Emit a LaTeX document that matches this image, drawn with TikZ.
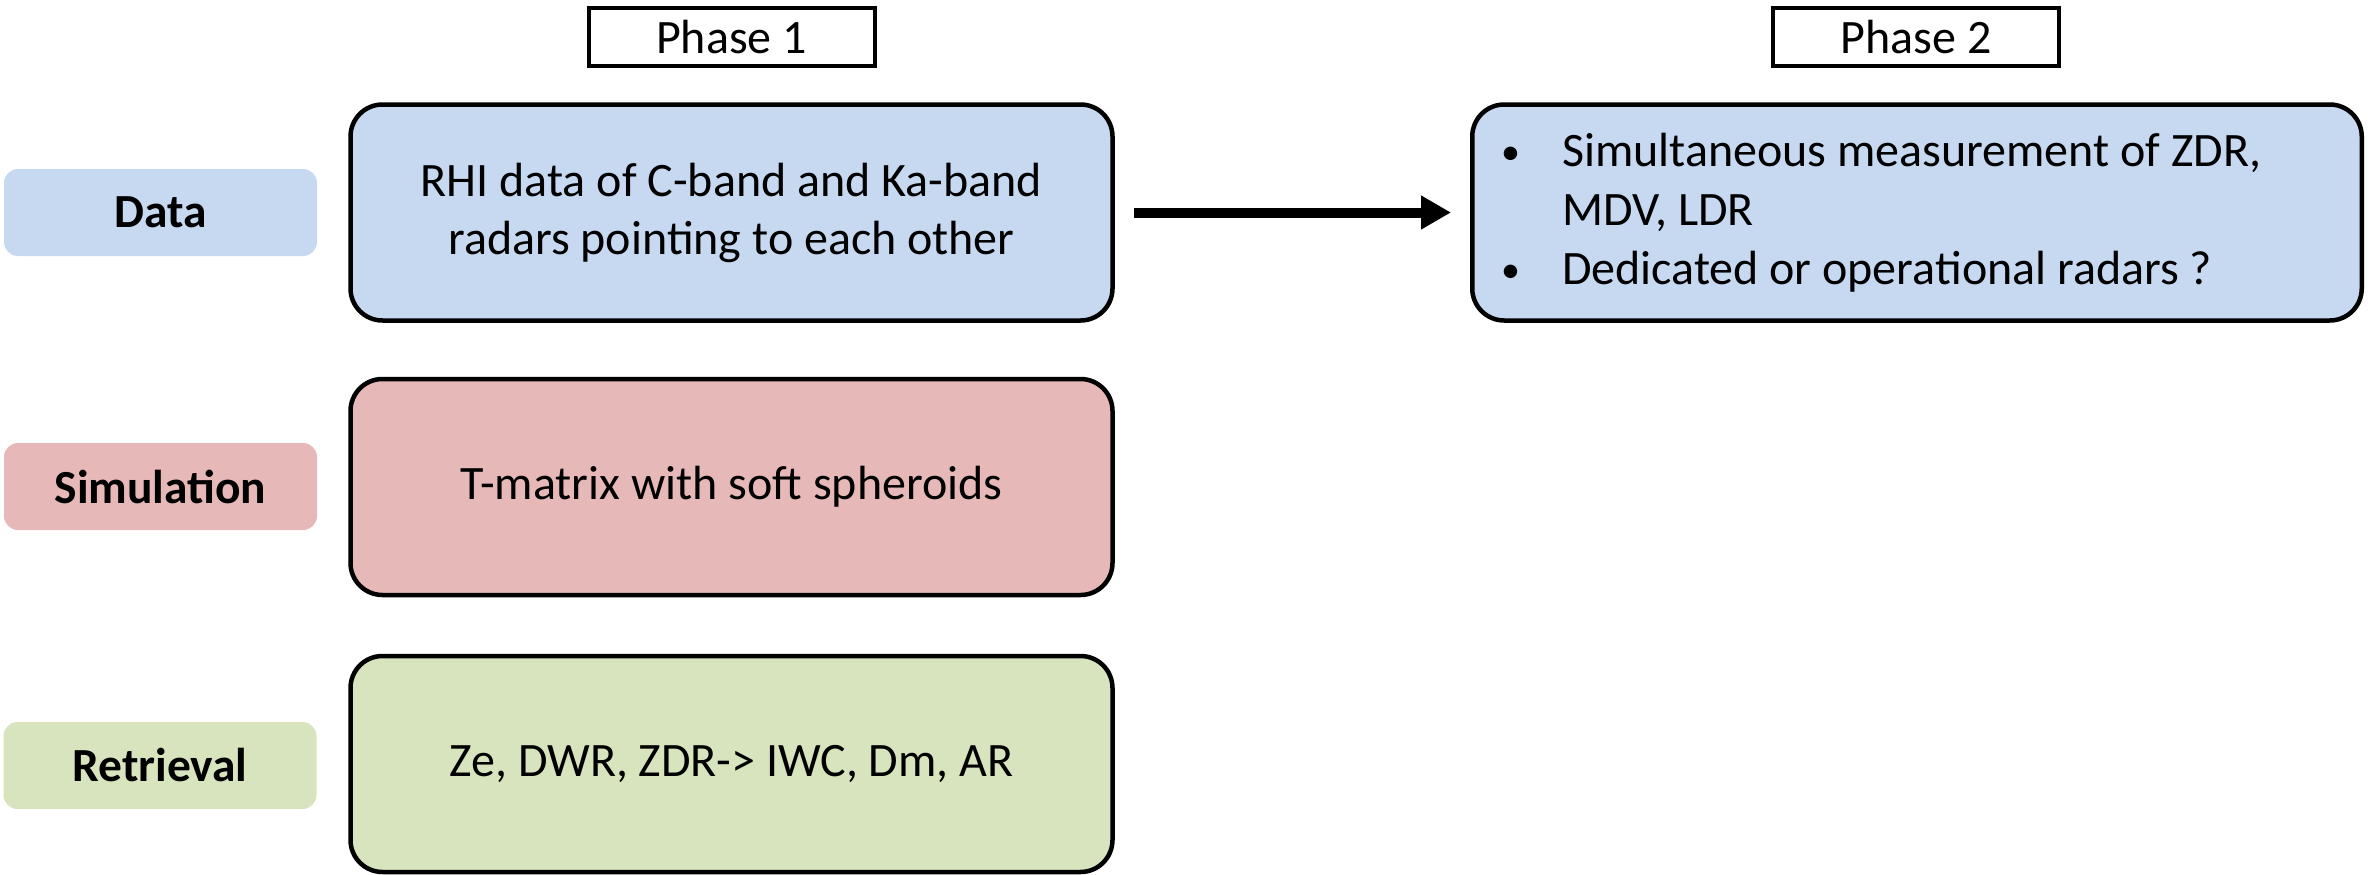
\documentclass[tikz,border=0pt]{standalone}
\usepackage{fontspec}
\setmainfont{Carlito}
\usetikzlibrary{arrows.meta}
\definecolor{blueF}{HTML}{C6D9F1}
\definecolor{pinkF}{HTML}{E6B9B8}
\definecolor{greenF}{HTML}{D7E4BD}
\newcommand{\mybul}{\makebox[58pt][l]{\hspace*{-3pt}\raisebox{2pt}{\fontsize{38}{38}\selectfont\textbullet}}}
\begin{document}
\begin{tikzpicture}[x=1pt,y=-1pt,
  mainbox/.style={draw, line width=4.5pt, rounded corners=32pt, minimum width=762pt, minimum height=216pt, inner sep=0pt, align=center, font=\fontsize{48}{58}\selectfont},
  labelbox/.style={rounded corners=14pt, minimum width=313pt, minimum height=87pt, inner sep=0pt, font=\fontsize{47.5}{56}\selectfont\bfseries},
  phasebox/.style={draw, line width=4pt, minimum width=286pt, minimum height=58pt, inner sep=0pt, font=\fontsize{48}{56}\selectfont},
  bigarrow/.style={line width=10pt, -{Triangle[length=30pt,width=32pt]}, shorten <=19pt, shorten >=19pt},
]
\useasboundingbox (0,0) rectangle (2375,875);

\node[phasebox] (ph1) at (731.5,37) {Phase 1};
\node[phasebox] (ph2) at (1916,37) {Phase 2};

\node[labelbox, fill=blueF] (ldata) at (160.5,212.5) {Data};
\node[labelbox, fill=pinkF] (lsim) at (160.5,486.5) {Simulation};
\node[labelbox, fill=greenF] (lret) at (160,765.5) {Retrieval};

\node[mainbox, fill=blueF] (data) at (731.5,212.5) {\raisebox{-4pt}{\parbox{700pt}{\centering RHI data of C-band and Ka-band\\radars pointing to each other}}};
\node[mainbox, fill=pinkF] (sim) at (731.5,487) {T-matrix with soft spheroids};
\node[mainbox, fill=greenF] (ret) at (731.5,764) {Ze, DWR, ZDR-> IWC, Dm, AR};

\node[mainbox, fill=blueF, minimum width=889.5pt, text width=826pt, align=flush left, font=\fontsize{48}{59}\selectfont] (p2) at (1917,212.5)
  {\mybul Simultaneous measurement of ZDR,\\\hspace*{58pt}MDV, LDR\\\mybul Dedicated or operational radars ?};

\draw[bigarrow] (data.east) -- (p2.west);
\end{tikzpicture}
\end{document}
